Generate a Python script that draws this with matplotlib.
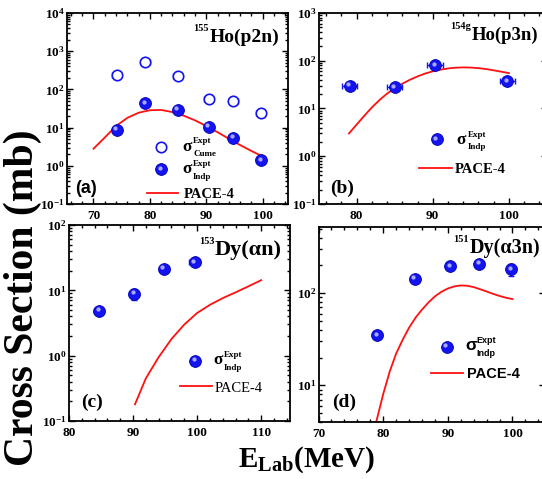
import numpy as np
import matplotlib
matplotlib.use('Agg')
import matplotlib.pyplot as plt
from matplotlib import transforms
from matplotlib.ticker import LogLocator, MultipleLocator, NullFormatter

SERIF = 'Liberation Serif'
SANS = 'Liberation Sans'
BLUE = '#1414f0'
RED = '#ff1010'

plt.rcParams['font.family'] = [SERIF, 'DejaVu Serif']
plt.rcParams['font.weight'] = 'bold'
plt.rcParams['mathtext.fontset'] = 'custom'
plt.rcParams['mathtext.rm'] = 'Liberation Serif:bold'
plt.rcParams['mathtext.bf'] = 'Liberation Serif:bold'
plt.rcParams['mathtext.it'] = 'Liberation Serif:bold:italic'

# (a) 155Ho(p2n)
a_e = [74.1, 79.2, 84.9, 90.4, 94.8, 99.7]
a_cume = [235, 510, 221, 55, 50, 23.8]
a_indp = [8.9, 43, 29, 10.4, 5.5, 1.38]
a_pace_e = [70, 72, 74, 76, 78, 80, 82, 84, 86, 88, 90, 92, 94, 96, 98, 100]
a_pace = [2.8, 5.5, 11, 18, 24.5, 28.5, 29, 25.5, 20.5, 15.5, 11, 7.6, 5.1, 3.5, 2.45, 1.75]

# (b) 154gHo(p3n)
b_e = [79.1, 85.0, 90.3, 99.8]
b_indp = [30, 28, 81, 37]
b_pace_e = [79, 80, 81, 82, 83, 84, 85, 86, 87, 88, 89, 90, 91, 92, 93, 94, 95, 96, 97, 98, 99, 100]
b_pace = [3.0, 4.6, 7, 10.5, 15, 20.5, 26.5, 33, 40, 47, 54, 60, 65, 69, 71.5, 72.5, 72, 70, 67, 63, 59, 55]

# (c) 153Dy(alpha n)
c_e = [84.7, 90.2, 94.8, 99.6]
c_indp = [4.9, 8.8, 21.3, 26.8]
c_pace_e = [90.3, 92, 94, 96, 98, 100, 102, 104, 106, 108, 110]
c_pace = [0.18, 0.45, 0.95, 1.8, 3.0, 4.5, 6.0, 7.6, 9.3, 11.5, 14.3]

# (d) 151Dy(alpha 3n)
d_e = [79.1, 84.9, 90.4, 94.9, 99.8]
d_indp = [35, 143, 195, 207, 180]
d_pace_e = [78.5, 79, 80, 81, 82, 83, 84, 85, 86, 87, 88, 89, 90, 91, 92, 93,
            94, 95, 96, 97, 98, 99, 100]
d_pace = [2.8, 4.2, 8, 14, 22, 31, 42, 54, 66, 79, 92, 103, 112, 118, 121, 120,
          116, 110, 104, 98, 93, 89, 86]

fig = plt.figure(figsize=(5.42, 4.79), dpi=100)


def frame(l, t, r, b):
    return fig.add_axes([l / 542, 1 - b / 479, (r - l) / 542, (b - t) / 479])


def style(ax, xlim, ylim):
    ax.set_yscale('log')
    ax.set_xlim(*xlim)
    ax.set_ylim(*ylim)
    ax.xaxis.set_major_locator(MultipleLocator(10))
    ax.xaxis.set_minor_locator(MultipleLocator(2))
    ax.yaxis.set_major_locator(LogLocator(base=10, numticks=12))
    ax.yaxis.set_minor_locator(LogLocator(base=10, subs=np.arange(2, 10), numticks=30))
    ax.yaxis.set_minor_formatter(NullFormatter())
    ax.tick_params(which='both', direction='in', top=True, right=True, width=1)
    ax.tick_params(which='major', length=4.5, labelsize=9.5)
    ax.tick_params(which='minor', length=2.5)
    ax.tick_params(axis='y', pad=1.5)
    ax.tick_params(axis='x', pad=4.5)
    for s in ax.spines.values():
        s.set_linewidth(1.3)


def sphere(ax, x, y, tr=None, ms=8.5):
    tr = ax.transData if tr is None else tr
    ax.plot(x, y, 'o', ms=ms, color=BLUE, mec='#0000b0', mew=0.6, transform=tr, zorder=4)
    hl = transforms.offset_copy(tr, fig=fig, x=-1.0, y=1.1, units='points')
    ax.plot(x, y, 'o', ms=ms * 0.36, color='#a8a8ff', mec='none', transform=hl, zorder=5)


def points(ax, e, v, xerr, yfrac, open_=False):
    v = np.asarray(v, dtype=float)
    ax.errorbar(e, v, xerr=xerr, yerr=v * np.asarray(yfrac), fmt='none', ecolor=BLUE,
                elinewidth=1, capsize=2, capthick=1, zorder=3)
    if open_:
        ax.plot(e, v, 'o', ms=7.5, mfc='white', mec=BLUE, mew=1.2, zorder=4)
    else:
        sphere(ax, e, v)


def title(ax, fx, fy, sup, main, size):
    ax.text(fx, fy, main, transform=ax.transAxes, fontsize=size, ha='left', va='baseline')
    tr = transforms.offset_copy(ax.transAxes, fig=fig, x=-0.6, y=7.9, units='points')
    ax.text(fx, fy, sup, transform=tr, fontsize=7.5, ha='right', va='baseline')


def sigma(ax, fx, fy, sub, fam=SERIF):
    ax.text(fx, fy, 'σ', transform=ax.transAxes, fontsize=12.5, family=fam, va='baseline')
    up = transforms.offset_copy(ax.transAxes, fig=fig, x=8, y=5.3, units='points')
    dn = transforms.offset_copy(ax.transAxes, fig=fig, x=8, y=-3.8, units='points')
    ax.text(fx, fy, 'Expt', transform=up, fontsize=6.5, family=fam, va='baseline')
    ax.text(fx, fy, sub, transform=dn, fontsize=6.5, family=fam, va='baseline')


def pace_key(ax, x0, x1, fy, ty, tx, fam=SERIF, weight='bold'):
    ax.plot([x0, x1], [fy, fy], color=RED, lw=1.3, transform=ax.transAxes)
    ax.text(tx, ty, 'PACE-4', transform=ax.transAxes, fontsize=10.5, family=fam,
            fontweight=weight, va='baseline')


# ---- (a)
ax = frame(67, 13, 288, 204)
style(ax, (65.3, 104.5), (0.1, 1e4))
ax.plot(a_pace_e, a_pace, color=RED, lw=1.3, zorder=2)
points(ax, a_e, a_cume, 0.8, 0.06, open_=True)
points(ax, a_e, a_indp, 0.8, 0.08)
title(ax, 0.647, 0.85, '155', 'Ho(p2n)', 14)
ax.plot([0.425], [0.300], 'o', ms=7.5, mfc='white', mec=BLUE, mew=1.2, transform=ax.transAxes)
sphere(ax, [0.425], [0.182], tr=ax.transAxes)
sigma(ax, 0.52, 0.279, 'Cume')
sigma(ax, 0.52, 0.161, 'Indp')
pace_key(ax, 0.363, 0.504, 0.059, 0.031, 0.526)
ax.text(0.036, 0.056, '(a)', transform=ax.transAxes, fontsize=13, family=SANS, va='baseline')

# ---- (b)
ax = frame(318.5, 13, 547, 204)
style(ax, (75, 105), (0.1, 1e3))
ax.plot(b_pace_e, b_pace, color=RED, lw=1.3, zorder=2)
points(ax, b_e, b_indp, 1.0, 0.08)
title(ax, 0.671, 0.859, '154g', 'Ho(p3n)', 13.5)
sphere(ax, [0.517], [0.339], tr=ax.transAxes)
sigma(ax, 0.605, 0.314, 'Indp')
pace_key(ax, 0.441, 0.583, 0.187, 0.161, 0.597)
ax.text(0.05, 0.056, '(b)', transform=ax.transAxes, fontsize=14, va='baseline')

# ---- (c)
ax = frame(69, 225, 290, 421)
style(ax, (80, 114.5), (0.1, 100))
ax.plot(c_pace_e, c_pace, color=RED, lw=1.3, zorder=2)
points(ax, c_e, c_indp, 0.8, [0.08, 0.2, 0.08, 0.08])
title(ax, 0.661, 0.847, '153', 'Dy(αn)', 16)
sphere(ax, [0.570], [0.308], tr=ax.transAxes)
sigma(ax, 0.652, 0.289, 'Indp')
pace_key(ax, 0.502, 0.646, 0.18, 0.149, 0.661, weight='normal')
ax.text(0.057, 0.073, '(c)', transform=ax.transAxes, fontsize=14, va='baseline')

# ---- (d)
ax = frame(318.5, 227, 544.8, 422)
style(ax, (70, 105), (4, 520))
ax.plot(d_pace_e, d_pace, color=RED, lw=1.3, zorder=2)
points(ax, d_e, d_indp, 0.7, [0.08, 0.08, 0.08, 0.08, 0.15])
title(ax, 0.669, 0.865, '151', 'Dy(α3n)', 14.5)
sphere(ax, [0.567], [0.386], tr=ax.transAxes)
sigma(ax, 0.647, 0.368, 'Indp', fam=SANS)
pace_key(ax, 0.496, 0.640, 0.25, 0.224, 0.655, fam=SANS)
ax.text(0.058, 0.078, '(d)', transform=ax.transAxes, fontsize=14, va='baseline')

fig.text(0.042, 0.378, 'Cross Section (mb)', rotation=90, ha='center', va='center',
         fontsize=30)
fig.text(0.565, 0.008, r'E$_{\mathdefault{Lab}}$(MeV)', ha='center', va='bottom', fontsize=21)

fig.savefig('out.png', dpi=100)
